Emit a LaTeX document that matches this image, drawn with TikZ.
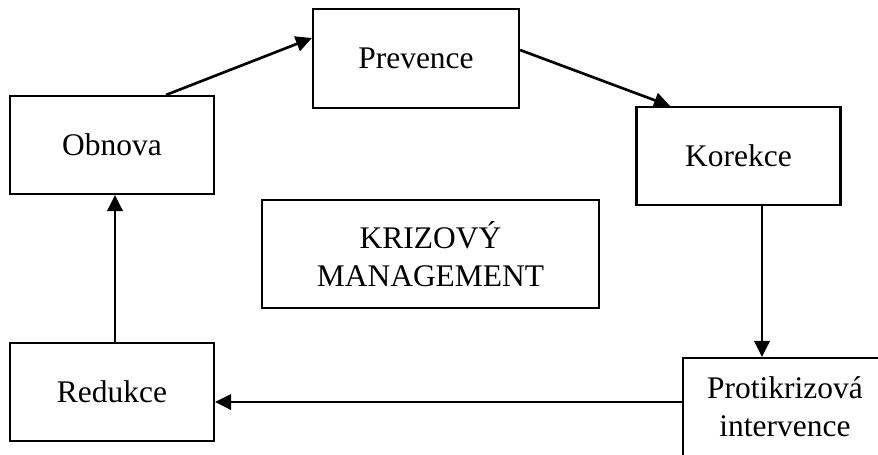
\documentclass[tikz,border=0pt]{standalone}
\usepackage{fontspec}
\setmainfont{Liberation Serif}
\usetikzlibrary{calc,arrows.meta}
\begin{document}
\begin{tikzpicture}[x=0.75pt,y=-0.75pt,
  stage/.style={draw,line width=1.6pt,inner sep=0pt,align=center,
    minimum width=153pt,minimum height=73.5pt,
    font=\fontsize{23.6pt}{28.3pt}\selectfont},
  flow/.style={line width=2pt,-{Triangle[length=12pt,width=11.5pt]}}]
  \clip (0,0) rectangle (878,454);
  % phases of the crisis cycle
  \node[stage] (obnova)   at (112,145)   {Obnova};
  \node[stage,minimum width=154.5pt,minimum height=74pt] (prevence) at (416,58.5) {Prevence};
  \node[stage] (korekce)  at (738.5,156) {Korekce};
  \node[stage,minimum width=252.75pt,minimum height=81pt] (kriz) at (430.5,254) {KRIZOVÝ\\MANAGEMENT};
  \node[stage] (redukce)  at (112,392)   {Redukce};
  \node[stage] (protik)   at (785,407)   {Protikrizová\\intervence};
  % cycle arrows
  \coordinate (a1) at ($(obnova.north)+(54,0)$);
  \draw[flow] (a1) -- ($(prevence.west)+(0,-20.5)$);
  \coordinate (a2) at ($(prevence.east)+(0,-8.5)$);
  \draw[flow] (a2) -- ($(korekce.north)+(-68.5,0)$);
  \coordinate (a3) at ($(korekce.south)+(23.5,0)$);
  \draw[flow] (a3) -- (a3 |- protik.north);
  \coordinate (a4) at ($(protik.west)+(0,-5)$);
  \draw[flow] (a4) -- (a4 -| redukce.east);
  \coordinate (a5) at ($(redukce.north)+(3,0)$);
  \draw[flow] (a5) -- (a5 |- obnova.south);
\end{tikzpicture}
\end{document}
